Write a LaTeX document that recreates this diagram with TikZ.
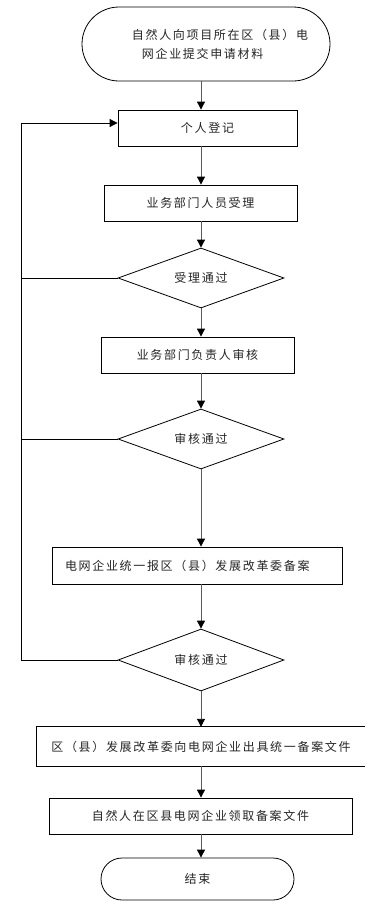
\documentclass[tikz,border=0pt]{standalone}
\usepackage{fontspec}
\newfontfamily\cjk[LetterSpace=14]{Noto Sans CJK SC}
\usetikzlibrary{shapes.geometric,shapes.misc,arrows.meta}
\begin{document}
\begin{tikzpicture}[x=1pt,y=-1pt,
 every node/.style={font=\cjk\fontsize{12}{19}\selectfont, text=black!85},
 box/.style={draw=black, line width=0.8pt, rectangle, inner sep=0pt, minimum height=36pt},
 dia/.style={draw=black, diamond, aspect=2.77, inner sep=0pt, line width=0.8pt, minimum width=166pt, minimum height=60pt},
 term/.style={draw=black, rounded rectangle, inner sep=0pt, line width=0.8pt},
 tip/.style={-{Triangle[length=8pt,width=8pt,color=black]}},
 arr/.style={draw=black!65, line width=0.9pt, tip},
 loopl/.style={draw=black, line width=0.8pt}]
\fill[white] (0,0) rectangle (384,905);
\useasboundingbox (0,0) rectangle (384,905);
\coordinate (ax) at (201,0);
\coordinate (lx) at (21,0);
\node[term, minimum width=248pt, minimum height=74pt] (start) at (206,44) {};
\node[align=left] (st) at (220,44) {自然人向项目所在区（县）电\\\hspace*{10pt}网企业提交申请材料};
\node[box, minimum width=179pt] (b1) at (207.5,128) {个人登记};
\node[box, minimum width=193pt] (b2) at (200.5,203) {业务部门人员受理};
\node[dia] (d1) at (201,278) {受理通过};
\node[box, minimum width=193pt] (b3) at (197.5,355) {业务部门负责人审核};
\node[dia] (d2) at (201,439) {审核通过};
\node[box, inner xsep=13pt, text width=264pt, align=left, minimum height=37pt] (b4) at (197,565.5) {电网企业统一报区（县）发展改革委备案};
\node[dia, minimum height=62pt] (d3) at (201,660) {审核通过};
\node[minimum width=328pt, minimum height=39pt, inner sep=0pt] (b5) at (201,746.5) {区（县）发展改革委向电网企业出具统一备案文件};
\draw[black, line width=0.8pt] (b5.north east) -- (b5.north west) -- (b5.south west) -- (b5.south east);
\node[box, minimum width=303pt] (b6) at (200.5,816) {自然人在区县电网企业领取备案文件};
\node[term, minimum width=193pt, minimum height=42pt] (end) at (197.5,879) {结束};
\draw[arr] (start.south -| ax) -- (b1.north -| ax);
\draw[arr] (b1.south -| ax) -- (b2.north -| ax);
\draw[arr] (b2.south -| ax) -- (d1.north);
\draw[arr] (d1.south) -- (b3.north -| ax);
\draw[arr] (b3.south -| ax) -- (d2.north);
\draw[arr] (d2.south) -- (b4.north -| ax);
\draw[arr] (b4.south -| ax) -- (d3.north);
\draw[arr] (d3.south) -- (b5.north -| ax);
\draw[arr] (b5.south -| ax) -- (b6.north -| ax);
\draw[arr] (b6.south -| ax) -- (end.north -| ax);
\coordinate (b1a) at ([yshift=5pt]b1.west);
\draw[loopl] (d1.west) -- (d1.west -| lx);
\draw[loopl] (d2.west) -- (d2.west -| lx);
\draw[loopl, tip] (d3.west) -- (d3.west -| lx) -- (lx |- b1a) -- (b1a);
\end{tikzpicture}
\end{document}
